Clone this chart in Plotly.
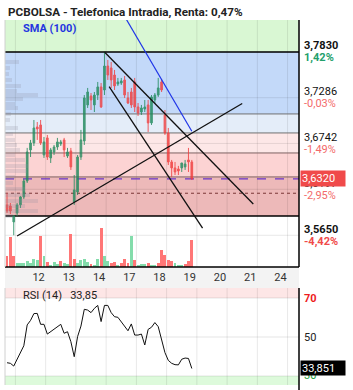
import plotly.graph_objects as go

W, H = 353, 390

# ---------------- data ----------------
day_labels = ["12", "13", "14", "17", "18", "19", "20", "21", "24"]
day_first_bar = [9, 18, 27, 36, 45, 54, 63, 72, 81]

opens = [3.6011, 3.5999, 3.5809, 3.5915, 3.6011, 3.6106, 3.6296, 3.6665, 3.6748,
         3.6938, 3.6962, 3.6605, 3.6808, 3.6570, 3.6641, 3.6700, 3.6736, 3.6784,
         3.6593, 3.6653, 3.6046, 3.6165, 3.6581, 3.6772, 3.7200, 3.7307, 3.7200,
         3.7318, 3.7414, 3.7378, 3.7663, 3.7640, 3.7556, 3.7449, 3.7461, 3.7497,
         3.7283, 3.7354, 3.7473, 3.7176, 3.7116, 3.7152, 3.7200, 3.6986, 3.7259,
         3.7318, 3.7473, 3.7081, 3.6867, 3.6522, 3.6451, 3.6439, 3.6451, 3.6463,
         3.6546, 3.6522]
highs = [3.6153, 3.6034, 3.5892, 3.6034, 3.6118, 3.6320, 3.6689, 3.6784, 3.7021,
         3.6997, 3.7021, 3.6819, 3.6843, 3.6689, 3.6724, 3.6808, 3.6784, 3.6808,
         3.6689, 3.6689, 3.6367, 3.6605, 3.6903, 3.7318, 3.7402, 3.7342, 3.7354,
         3.7473, 3.7461, 3.7830, 3.7735, 3.7711, 3.7616, 3.7521, 3.7521, 3.7544,
         3.7354, 3.7402, 3.7521, 3.7223, 3.7200, 3.7259, 3.7259, 3.7318, 3.7342,
         3.7521, 3.7509, 3.7140, 3.6926, 3.6546, 3.6522, 3.6475, 3.6510, 3.6546,
         3.6689, 3.6546]
lows = [3.5915, 3.5903, 3.5650, 3.5880, 3.5975, 3.6082, 3.6272, 3.6581, 3.6712,
        3.6784, 3.6724, 3.6570, 3.6546, 3.6510, 3.6605, 3.6665, 3.6712, 3.6581,
        3.6570, 3.6427, 3.6011, 3.6129, 3.6546, 3.6724, 3.7164, 3.7140, 3.7116,
        3.7259, 3.7164, 3.7318, 3.7497, 3.7402, 3.7378, 3.7426, 3.7438, 3.7283,
        3.7211, 3.7164, 3.7116, 3.7069, 3.7081, 3.7116, 3.6879, 3.6962, 3.7223,
        3.7295, 3.7354, 3.6843, 3.6486, 3.6344, 3.6367, 3.6367, 3.6403, 3.6427,
        3.6403, 3.6308]
closes = [3.5939, 3.5939, 3.5880, 3.6011, 3.6106, 3.6296, 3.6641, 3.6748, 3.6926,
          3.6914, 3.6748, 3.6760, 3.6581, 3.6665, 3.6700, 3.6760, 3.6760, 3.6665,
          3.6641, 3.6463, 3.6189, 3.6581, 3.6784, 3.7283, 3.7354, 3.7259, 3.7318,
          3.7414, 3.7176, 3.7663, 3.7556, 3.7497, 3.7426, 3.7473, 3.7485, 3.7318,
          3.7223, 3.7200, 3.7176, 3.7105, 3.7164, 3.7176, 3.6986, 3.7295, 3.7318,
          3.7402, 3.7378, 3.6867, 3.6522, 3.6451, 3.6403, 3.6415, 3.6510, 3.6498,
          3.6522, 3.6320]

volumes_k = [107, 300, 107, 43, 43, 40, 57, 40, 83,
             73, 307, 107, 50, 23, 50, 33, 57, 40,
             33, 333, 83, 40, 73, 83, 50, 33, 23,
             83, 390, 107, 57, 40, 47, 23, 40, 83,
             40, 307, 73, 23, 33, 33, 43, 23, 23,
             40, 173, 123, 67, 60, 40, 20, 20, 27,
             60, 273]
volume_up = [0, 0, 0, 1, 1, 1, 1, 1, 1,
             1, 0, 1, 0, 1, 1, 1, 0, 1,
             1, 0, 0, 1, 1, 1, 1, 0, 1,
             1, 0, 1, 1, 0, 0, 1, 0, 0,
             0, 1, 0, 1, 1, 1, 0, 1, 1,
             0, 0, 0, 0, 0, 1, 1, 1, 0,
             0, 0]

rsi14 = [36.8, 36.5, 35.1, 38.5, 41.6, 45.5, 56.2, 58.5, 62.0, 62.1,
         56.5, 56.5, 51.5, 52.8, 54.0, 55.3, 56.5, 51.9, 52.7, 47.6,
         39.9, 50.2, 55.6, 64.2, 63.8, 62.5, 64.7, 66.2, 57.9, 66.2,
         66.2, 62.5, 60.4, 60.1, 57.9, 55.5, 53.2, 56.7, 51.0, 51.0,
         51.5, 45.9, 53.9, 55.0, 57.4, 55.3, 48.0, 42.0, 38.0, 36.5,
         35.8, 35.7, 38.6, 39.2, 39.0, 33.85]

sma100_first_bar = 34
sma100 = [3.8321, 3.8252, 3.8184, 3.8116, 3.8047, 3.7980, 3.7911, 3.7843,
          3.7775, 3.7706, 3.7638, 3.7569, 3.7502, 3.7434, 3.7365, 3.7297,
          3.7228, 3.7160, 3.7093, 3.7024, 3.6956, 3.6888]

fib_levels = [3.7830, 3.7093, 3.6867, 3.6629, 3.6344, 3.5880]

axis_prices = [3.7830, 3.7286, 3.6742, 3.6197, 3.5650]
axis_price_text = ["3,7830", "3,7286", "3,6742", "3,6197", "3,5650"]
axis_pct_text = ["1,42%", "-0,03%", "-1,49%", "-2,95%", "-4,42%"]
top_pct_price = 3.8374
top_pct_text = "2,87%"

last_price = 3.6320
last_price_text = "3,6320"
prev_close = 3.6150
rsi_last = 33.85
rsi_last_text = "33,851"
rsi_levels = [70, 50, 30]
rsi_level_text = ["70", "50", "30"]

trend_support_x = [3, 70]
trend_support_y = [3.5642, 3.7217]
trend_resist_x = [29, 73.3]
trend_resist_y = [3.7830, 3.6022]
trend_channel_x = [30.4, 58.2]
trend_channel_y = [3.7417, 3.5734]

profile_prices = [3.7711, 3.7640, 3.7568, 3.7497, 3.7426, 3.7366, 3.7318, 3.7271,
                  3.7211, 3.7164, 3.7093, 3.7021, 3.6926, 3.6855, 3.6784, 3.6724,
                  3.6665, 3.6605, 3.6546, 3.6475, 3.6415, 3.6344, 3.6272, 3.6201,
                  3.6129, 3.6058, 3.5999, 3.5939, 3.5880]
profile_volume = [14, 5, 4, 7, 16, 12, 33, 18, 10, 13, 6, 5, 13, 8, 10, 12,
                  15, 10, 20, 23, 22, 10, 8, 20, 25, 33, 20, 33, 8]

title_text = "PCBOLSA - Telefonica Intradia, Renta: 0,47%"

# ---------------- layout geometry ----------------
def px_x(p):
    return p / W

def px_y(p):
    return 1 - p / H

X_RANGE = [-0.6, 86.9]
Y_RANGE = [3.5273, 3.8210]
VOL_RANGE = [0, 2470]
RSI_RANGE = [25.38, 75.13]
PLOT_L, PLOT_R = 5, 299
MAIN_T, MAIN_B = 20, 267
RSI_T, RSI_B = 288, 385

FONT = "Roboto, Arial, sans-serif"
GREEN_C = "#1f8a5c"
RED_C = "#f03c3c"

bars = list(range(len(closes)))

fig = go.Figure()

# volume profile (left)
fig.add_trace(go.Bar(
    x=profile_volume, y=profile_prices, orientation="h", width=0.0047,
    marker=dict(color="rgba(140,140,160,0.22)", line_width=0),
    xaxis="x3", yaxis="y", hoverinfo="skip", showlegend=False))

# volume bars
fig.add_trace(go.Bar(
    x=bars, y=volumes_k, width=0.88,
    marker=dict(color=["#83dcab" if u else "#ff7676" for u in volume_up], line_width=0),
    xaxis="x", yaxis="y2", hoverinfo="skip", showlegend=False))

# candles
fig.add_trace(go.Candlestick(
    x=bars, open=opens, high=highs, low=lows, close=closes,
    increasing=dict(line=dict(color=GREEN_C, width=1), fillcolor=GREEN_C),
    decreasing=dict(line=dict(color=RED_C, width=1), fillcolor=RED_C),
    opacity=0.82, whiskerwidth=0,
    xaxis="x", yaxis="y", hoverinfo="skip", showlegend=False))

# SMA(100)
fig.add_trace(go.Scatter(
    x=list(range(sma100_first_bar, sma100_first_bar + len(sma100))), y=sma100,
    mode="lines", line=dict(color="#1f35e8", width=1.2),
    xaxis="x", yaxis="y", hoverinfo="skip", showlegend=False))

# trend lines
for tx, ty in [(trend_support_x, trend_support_y), (trend_resist_x, trend_resist_y),
               (trend_channel_x, trend_channel_y)]:
    fig.add_trace(go.Scatter(x=tx, y=ty, mode="lines", line=dict(color="#111111", width=1.3),
                             xaxis="x", yaxis="y", hoverinfo="skip", showlegend=False))

# RSI
fig.add_trace(go.Scatter(
    x=bars, y=rsi14, mode="lines", line=dict(color="#111111", width=1),
    xaxis="x2", yaxis="y3", hoverinfo="skip", showlegend=False))

# ---------------- shapes ----------------
shapes = []
band_colors = ["#d9f7d3", "#c3d9f9", "#e4edf9", "#fde7e7", "#fcd3d3", "#edb9b9"]
bounds = [Y_RANGE[1]] + fib_levels
for k in range(len(bounds) - 1):
    shapes.append(dict(type="rect", xref="x domain", x0=0, x1=1, yref="y",
                       y0=bounds[k + 1], y1=bounds[k], fillcolor=band_colors[k],
                       line_width=0, layer="below"))

# x-axis label strip
shapes.append(dict(type="rect", xref="paper", x0=px_x(PLOT_L), x1=px_x(PLOT_R), yref="paper",
                   y0=px_y(RSI_T), y1=px_y(MAIN_B), fillcolor="#f3f3f3", line_width=0, layer="below"))

# RSI zones
shapes.append(dict(type="rect", xref="x2 domain", x0=0, x1=1, yref="y3", y0=70, y1=RSI_RANGE[1],
                   fillcolor="#fde6e6", line_width=0, layer="below"))
shapes.append(dict(type="rect", xref="x2 domain", x0=0, x1=1, yref="y3", y0=RSI_RANGE[0], y1=30,
                   fillcolor="#ddfadb", line_width=0, layer="below"))

# vertical grid (mid-morning of every session)
grid_c = "rgba(0,0,0,0.09)"
for d in [0] + day_first_bar:
    gx = d + 2.5
    shapes.append(dict(type="line", xref="x", x0=gx, x1=gx, yref="y domain", y0=0, y1=1,
                       line=dict(color=grid_c, width=1), layer="below"))
    shapes.append(dict(type="line", xref="x2", x0=gx, x1=gx, yref="y3 domain", y0=0, y1=1,
                       line=dict(color=grid_c, width=1), layer="below"))
for p in axis_prices:
    shapes.append(dict(type="line", xref="x domain", x0=0, x1=1, yref="y", y0=p, y1=p,
                       line=dict(color=grid_c, width=1), layer="below"))
for r in rsi_levels:
    shapes.append(dict(type="line", xref="x2 domain", x0=0, x1=1, yref="y3", y0=r, y1=r,
                       line=dict(color="rgba(0,0,0,0.1)", width=1), layer="below"))

# fibonacci lines
fib_line_c = ["#000000", "#707070", "#707070", "#7d6262", "#7d6262", "#000000"]
fib_line_w = [1.5, 1, 1, 1, 1, 1.5]
for p, c, w in zip(fib_levels, fib_line_c, fib_line_w):
    shapes.append(dict(type="line", xref="x domain", x0=0, x1=1, yref="y", y0=p, y1=p,
                       line=dict(color=c, width=w), layer="below"))

# previous close (dotted) and last price (dashed)
shapes.append(dict(type="line", xref="x domain", x0=0, x1=1, yref="y", y0=prev_close, y1=prev_close,
                   line=dict(color="#7a3535", width=1, dash="dot"), layer="below"))
shapes.append(dict(type="line", xref="x domain", x0=0, x1=1, yref="y", y0=last_price, y1=last_price,
                   line=dict(color="#6a35c8", width=1.2, dash="dash"), layer="below"))

# frame lines
shapes.append(dict(type="line", xref="paper", x0=px_x(PLOT_L), x1=px_x(PLOT_R), yref="paper",
                   y0=px_y(MAIN_B), y1=px_y(MAIN_B), line=dict(color="#000", width=1.5)))
shapes.append(dict(type="line", xref="paper", x0=px_x(PLOT_R), x1=px_x(PLOT_R), yref="paper",
                   y0=px_y(MAIN_T), y1=px_y(MAIN_B), line=dict(color="#000", width=1.5)))
shapes.append(dict(type="line", xref="paper", x0=px_x(PLOT_R), x1=px_x(PLOT_R), yref="paper",
                   y0=0, y1=px_y(RSI_T), line=dict(color="#000", width=1.5)))
for (t, b) in [(MAIN_T, MAIN_B), (RSI_T, RSI_B)]:
    shapes.append(dict(type="line", xref="paper", x0=px_x(PLOT_L), x1=px_x(PLOT_L), yref="paper",
                       y0=px_y(b), y1=px_y(t), line=dict(color="#d0d0d0", width=1)))

# ---------------- annotations ----------------
ann = []
ann.append(dict(text=title_text, xref="paper", yref="paper", x=px_x(6), y=px_y(12),
                xanchor="left", yanchor="middle", showarrow=False,
                font=dict(family=FONT, size=11.7, color="#222", weight="bold")))
ann.append(dict(text="SMA (100)", xref="paper", yref="paper", x=px_x(21), y=px_y(29),
                xanchor="left", yanchor="middle", showarrow=False,
                font=dict(family=FONT, size=11, color="#2436e0", weight="bold")))
ann.append(dict(text=top_pct_text, xref="paper", yref="y", x=px_x(302), y=top_pct_price,
                yshift=-5, xanchor="left", yanchor="middle", showarrow=False,
                font=dict(family=FONT, size=11, color="#3fb88a")))
n_ax = len(axis_prices)
for k, (p, pt, pc) in enumerate(zip(axis_prices, axis_price_text, axis_pct_text)):
    strong = k in (0, n_ax - 1)
    ann.append(dict(text=pt, xref="paper", yref="y", x=px_x(302), y=p, yshift=6,
                    xanchor="left", yanchor="middle", showarrow=False,
                    font=dict(family=FONT, size=11, color="#111",
                              weight="bold" if strong else "normal")))
    pos = not pc.startswith("-")
    ann.append(dict(text=pc, xref="paper", yref="y", x=px_x(302), y=p, yshift=-6,
                    xanchor="left", yanchor="middle", showarrow=False,
                    font=dict(family=FONT, size=11,
                              color=("#22a06b" if pos else "#f04a4a") if strong
                              else ("#3fb88a" if pos else "#f36a6a"),
                              weight="bold" if strong else "normal")))
ann.append(dict(text=last_price_text, xref="paper", yref="y", x=px_x(300), y=last_price,
                xanchor="left", yanchor="middle", showarrow=False, bgcolor="#f04a4a",
                width=42, height=13, align="left", borderpad=1,
                font=dict(family=FONT, size=11, color="#ffffff")))

ann.append(dict(text="RSI (14)&nbsp;&nbsp;&nbsp;" + f"{rsi_last:.2f}".replace(".", ","),
                xref="paper", yref="paper", x=px_x(21), y=px_y(295),
                xanchor="left", yanchor="middle", showarrow=False,
                font=dict(family=FONT, size=11, color="#222")))
lvl_col = ["#ee1c1c", "#222222", "#22a03a"]
for r, t, c in zip(rsi_levels, rsi_level_text, lvl_col):
    ann.append(dict(text=t, xref="paper", yref="y3", x=px_x(302), y=r,
                    xanchor="left", yanchor="middle", showarrow=False,
                    font=dict(family=FONT, size=11, color=c, weight="bold" if r == 70 else "normal")))
ann.append(dict(text=rsi_last_text, xref="paper", yref="y3", x=px_x(300), y=rsi_last,
                xanchor="left", yanchor="middle", showarrow=False, bgcolor="#000000",
                width=42, height=12, align="left", borderpad=1,
                font=dict(family=FONT, size=11, color="#ffffff")))

# ---------------- axes ----------------
x_dom = [px_x(PLOT_L), px_x(PLOT_R)]
fig.update_layout(
    width=W, height=H, margin=dict(l=0, r=0, t=0, b=0),
    paper_bgcolor="#ffffff", plot_bgcolor="#ffffff",
    showlegend=False, bargap=0,
    font=dict(family=FONT, size=11, color="#333"),
    xaxis=dict(domain=x_dom, range=X_RANGE, anchor="y",
               tickvals=[d + 0.4 for d in day_first_bar], ticktext=day_labels,
               showgrid=False, zeroline=False, showline=False, ticks="",
               ticklabelstandoff=2,
               tickfont=dict(family=FONT, size=11, color="#333"),
               rangeslider=dict(visible=False), fixedrange=True),
    xaxis2=dict(domain=x_dom, range=X_RANGE, anchor="y3", showticklabels=False,
                showgrid=False, zeroline=False, showline=False, ticks=""),
    xaxis3=dict(range=[0, PLOT_R - PLOT_L], overlaying="x", anchor="y", visible=False),
    yaxis=dict(domain=[px_y(MAIN_B), px_y(MAIN_T)], range=Y_RANGE, anchor="x",
               showticklabels=False, showgrid=False, zeroline=False, ticks=""),
    yaxis2=dict(range=VOL_RANGE, overlaying="y", anchor="x", visible=False),
    yaxis3=dict(domain=[px_y(RSI_B), px_y(RSI_T)], range=RSI_RANGE, anchor="x2",
                showticklabels=False, showgrid=False, zeroline=False, ticks=""),
    shapes=shapes, annotations=ann,
)

fig.write_html("out.html", config={"displayModeBar": False})
